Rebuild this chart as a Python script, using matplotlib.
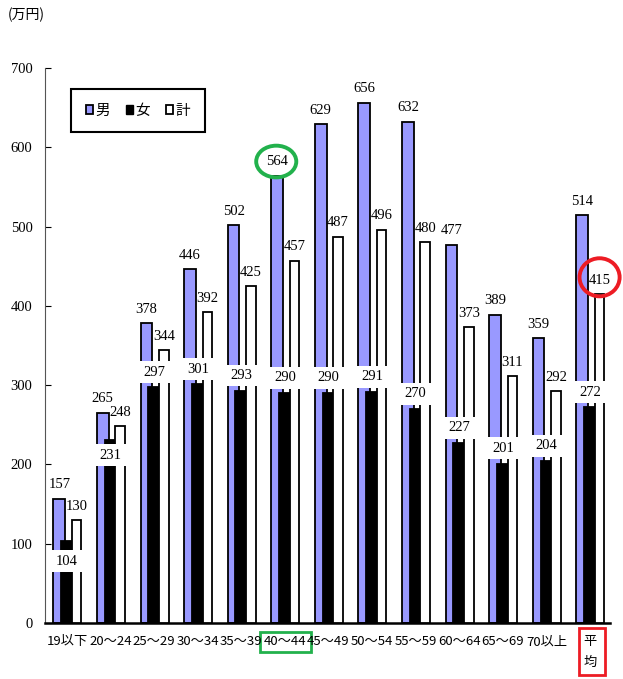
import numpy as np
import matplotlib
matplotlib.use('Agg')
import matplotlib.pyplot as plt
from matplotlib.patches import Ellipse, Rectangle, Patch
from matplotlib.transforms import blended_transform_factory

plt.rcParams['font.family'] = ['Noto Sans CJK JP', 'DejaVu Sans']

# data (万円)
ages = ['19以下', '20～24', '25～29', '30～34', '35～39', '40～44', '45～49',
        '50～54', '55～59', '60～64', '65～69', '70以上', '平\n均']
male = [157, 265, 378, 446, 502, 564, 629, 656, 632, 477, 389, 359, 514]
female = [104, 231, 297, 301, 293, 290, 290, 291, 270, 227, 201, 204, 272]
total = [130, 248, 344, 392, 425, 457, 487, 496, 480, 373, 311, 292, 415]

BLUE = '#9999ff'
SERIF = 'Liberation Serif'

fig = plt.figure(figsize=(6.23, 6.79), dpi=100)
ax = fig.add_axes([0.0722, 0.0825, 0.907, 0.8174])

x = np.arange(len(ages))
ax.bar(x - 0.18, male, width=0.27, color=BLUE, edgecolor='black', linewidth=1.3, zorder=2)
ax.bar(x, female, width=0.27, color='black', edgecolor='black', linewidth=1.3, zorder=3)
ax.bar(x + 0.22, total, width=0.22, color='white', edgecolor='black', linewidth=1.3, zorder=4)

# value labels
for i in range(len(ages)):
    ax.annotate(str(male[i]), (x[i] - 0.18, male[i]), xytext=(0, 10),
                textcoords='offset points', ha='center', va='center',
                fontsize=10.5, family=SERIF, zorder=6)
    ax.annotate(str(total[i]), (x[i] + 0.22, total[i]), xytext=(0, 10),
                textcoords='offset points', ha='center', va='center',
                fontsize=10.5, family=SERIF, zorder=6)
    # first two female labels sit inside the bars, the rest above
    off = {0: -15, 1: -11}.get(i, 11)
    ax.annotate(str(female[i]), (x[i], female[i]), xytext=(0, off),
                textcoords='offset points', ha='center', va='center',
                fontsize=10.5, family=SERIF, zorder=7,
                bbox=dict(boxstyle='square,pad=0.3', fc='white', ec='none'))

ax.set_xlim(-0.507, 12.46)
ax.set_ylim(0, 700)
ax.set_yticks(range(0, 701, 100))
ax.set_xticks(x)
ax.set_xticklabels(ages, fontsize=9.5, linespacing=1.75)
for lab in ax.get_yticklabels():
    lab.set_family(SERIF)
    lab.set_fontsize(10.5)
ax.tick_params(axis='y', direction='in', length=4, pad=9)
ax.tick_params(axis='x', length=0, pad=9)
ax.spines['top'].set_visible(False)
ax.spines['right'].set_visible(False)
ax.spines['left'].set_color('#555555')
ax.spines['bottom'].set_linewidth(1.8)

fig.text(0.013, 0.978, '(万円)', fontsize=10, va='center', ha='left')

handles = [Patch(facecolor=BLUE, edgecolor='black', linewidth=1.3),
           Patch(facecolor='black', edgecolor='black'),
           Patch(facecolor='white', edgecolor='black', linewidth=1.3)]
leg = ax.legend(handles, ['男', '女', '計'], ncol=3, loc='upper left',
                bbox_to_anchor=(0.046, 0.962), borderaxespad=0, fancybox=False,
                fontsize=10.5, handlelength=0.5, handleheight=0.5, handletextpad=0.15,
                columnspacing=1.1, borderpad=1.0, framealpha=1)
leg.get_frame().set_edgecolor('black')
leg.get_frame().set_linewidth(1.5)

# highlight marks
ax.add_patch(Ellipse((5 - 0.2, 582), 0.92, 40, fill=False, ec='#22b14c', lw=2.8,
                     zorder=8, clip_on=False))
ax.add_patch(Ellipse((12 + 0.22, 436), 0.92, 48, fill=False, ec='#ed1c24', lw=2.8,
                     zorder=8, clip_on=False))
tr = blended_transform_factory(ax.transData, ax.transAxes)
ax.add_patch(Rectangle((5 - 0.574, -0.0523), 1.17, 0.0361, transform=tr, fill=False,
                       ec='#22b14c', lw=2, clip_on=False))
ax.add_patch(Rectangle((12 - 0.25, -0.0937), 0.6, 0.0847, transform=tr, fill=False,
                       ec='#ed1c24', lw=2, clip_on=False))

plt.savefig('out.png', dpi=100)
